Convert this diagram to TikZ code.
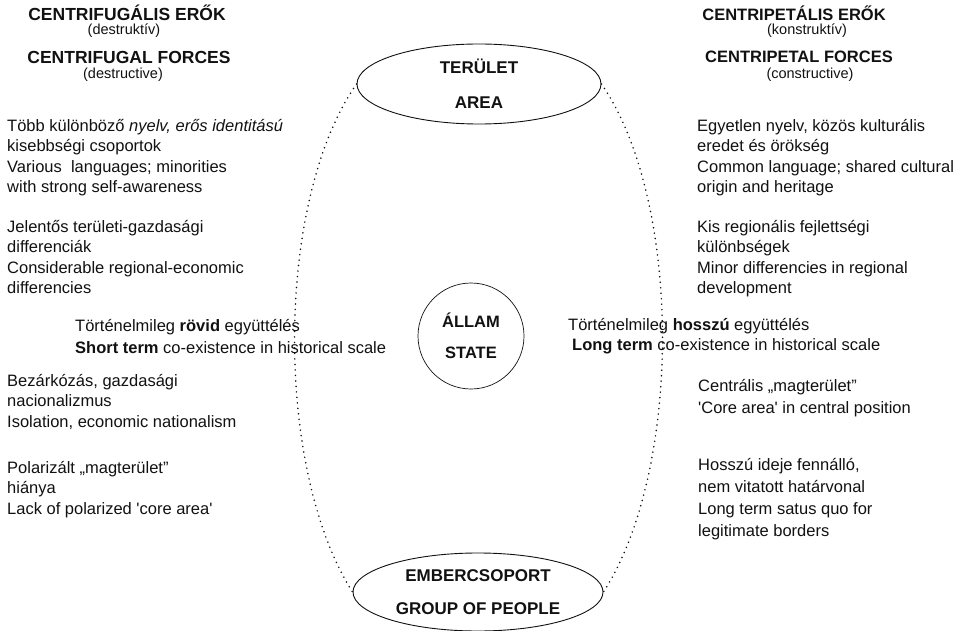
\documentclass[tikz,border=0pt]{standalone}
\usepackage{fontspec}
\setmainfont{Liberation Sans}
\usepackage{tikz}
\usetikzlibrary{positioning,shapes.geometric}
\definecolor{ink}{HTML}{111111}
\tikzset{
  hd/.style={font=\fontsize{17.5}{20}\selectfont\bfseries, text=ink, inner sep=0pt},
  hdr/.style={hd, font=\fontsize{16.5}{19}\selectfont\bfseries},
  sub/.style={font=\fontsize{14.5}{17}\selectfont, text=ink, inner sep=0pt},
  txt/.style={font=\fontsize{16.5}{20.5}\selectfont, text=ink, align=left, anchor=north west, inner sep=0pt},
  txtw/.style={txt, font=\fontsize{16.5}{22}\selectfont},
  blob/.style={ellipse, draw=ink, line width=0.9pt, inner sep=0pt, align=center, text=ink},
  ring/.style={circle, draw=ink, line width=0.7pt, inner sep=0pt, align=center, text=ink},
  rim/.style={draw=ink, line width=1.7pt, dash pattern=on 0pt off 5.5pt, line cap=round},
}

\begin{document}
\begin{tikzpicture}[x=1pt, y=-1pt]
  \useasboundingbox (0,0) rectangle (955,631);
  % headings
  \node[hd] (cfhu) at (127,13) {CENTRIFUGÁLIS ERŐK};
  \node[sub] (cfhu2) at (124,31) {(destruktív)};
  \node[hd] (cfen) at (129,57) {CENTRIFUGAL FORCES};
  \node[sub] (cfen2) at (123,75) {(destructive)};
  \node[hdr] (cphu) at (794,13) {CENTRIPETÁLIS ERŐK};
  \node[sub] (cphu2) at (807,31) {(konstruktív)};
  \node[hdr] (cpen) at (799,57) {CENTRIPETAL FORCES};
  \node[sub] (cpen2) at (810,75) {(constructive)};
  % centre
  \node[blob, minimum width=244, minimum height=80, font=\fontsize{17}{35}\selectfont\bfseries] (area) at (479,84) {TERÜLET\\AREA};
  \node[ring, minimum size=106, font=\fontsize{16.5}{31}\selectfont\bfseries] (state) at (471,336) {ÁLLAM\\STATE};
  \node[blob, minimum width=250, minimum height=78, font=\fontsize{17}{33}\selectfont\bfseries] (people) at (478,592) {EMBERCSOPORT\\GROUP OF PEOPLE};
  \draw[rim] (area.west) .. controls +(-82,117) and +(-78,-122) .. (people.west);
  \draw[rim] (area.east) .. controls +(81,117) and +(79,-122) .. (people.east);
  % left column
  \node[txt] (lang) at (7,119) {Több különböző \textit{nyelv, erős identitású}\\kisebbségi csoportok\\Various\ \ languages; minorities\\with strong self-awareness};
  \node[txt] (diff) at (7,220) {Jelentős területi-gazdasági\\differenciák\\Considerable regional-economic\\differencies};
  \node[txtw] (short) at (75,319) {Történelmileg \textbf{rövid} együttélés\\\textbf{Short term} co-existence in historical scale};
  \node[txt] (iso) at (7,374) {Bezárkózás, gazdasági\\nacionalizmus\\Isolation, economic nationalism};
  \node[txt] (lack) at (7,461) {Polarizált „magterület"\\hiánya\\Lack of polarized \textquotesingle core area\textquotesingle};
  % right column
  \node[txt] (one) at (697,119) {Egyetlen nyelv, közös kulturális\\eredet és örökség\\Common language; shared cultural\\origin and heritage};
  \node[txt] (minor) at (697,220) {Kis regionális fejlettségi\\különbségek\\Minor differencies in regional\\development};
  \node[txt] (long) at (568,318) {Történelmileg \textbf{hosszú} együttélés\\\hspace*{4pt}\textbf{Long term} co-existence in historical scale};
  \node[txtw] (core) at (698,379) {Centrális „magterület"\\\textquotesingle Core area\textquotesingle\ in central position};
  \node[txtw] (border) at (698,458) {Hosszú ideje fennálló,\\nem vitatott határvonal\\Long term satus quo for\\legitimate borders};
\end{tikzpicture}
\end{document}
